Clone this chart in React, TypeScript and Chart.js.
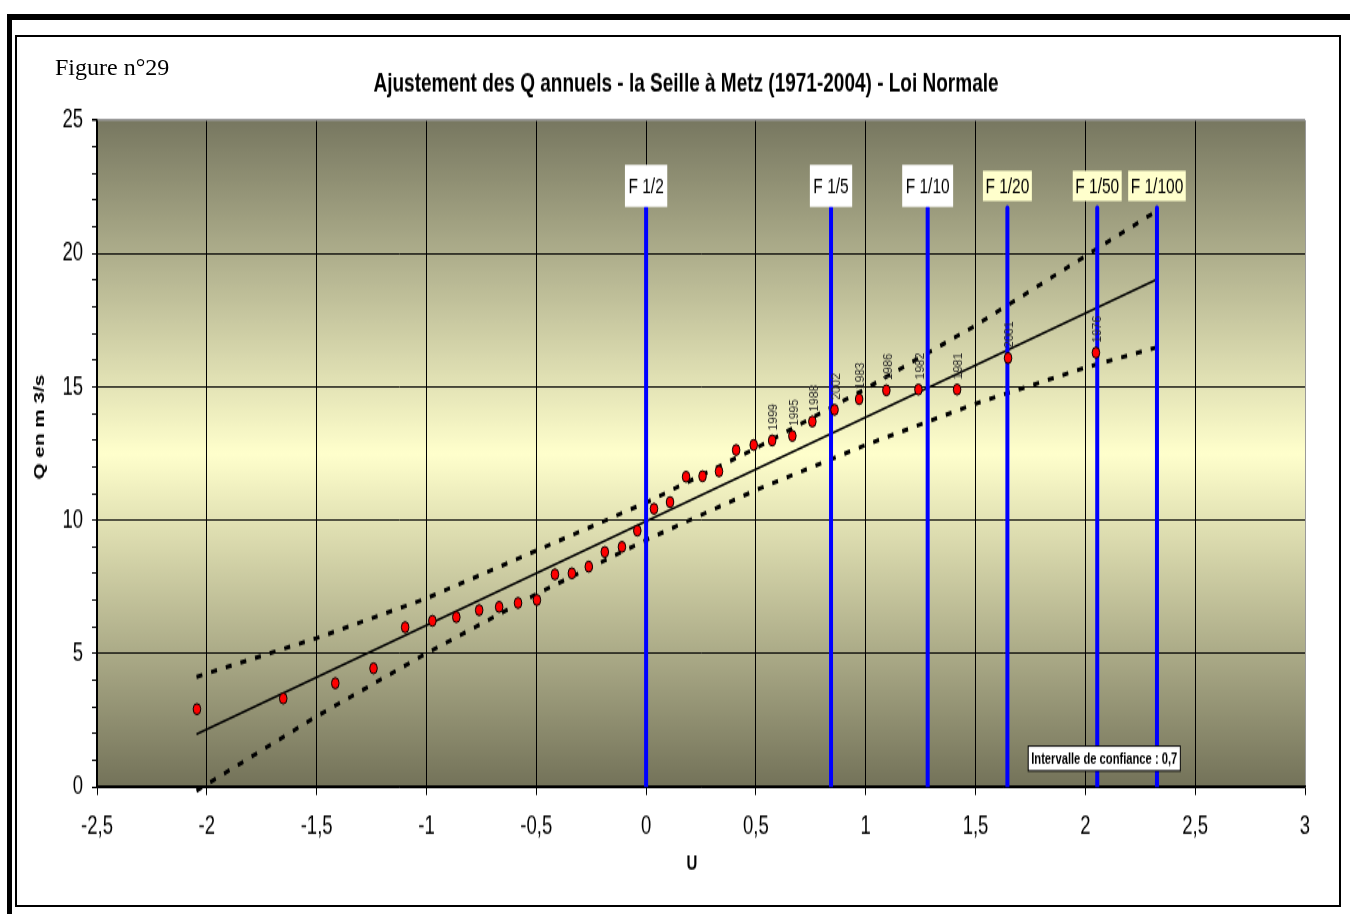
import React, { useEffect, useRef } from 'react';
import { Chart, registerables } from 'chart.js';

Chart.register(...registerables);

// ---- data ----
const U_VALUES = [
  -2.045, -1.652, -1.415, -1.241, -1.097, -0.973, -0.864, -0.760, -0.669, -0.583,
  -0.497, -0.415, -0.338, -0.261, -0.188, -0.110, -0.040, 0.036, 0.109, 0.182,
  0.257, 0.332, 0.410, 0.490, 0.574, 0.666, 0.757, 0.858, 0.970, 1.094,
  1.240, 1.416, 1.648, 2.048,
];
const Q_VALUES = [
  2.92, 3.32, 3.89, 4.45, 5.99, 6.23, 6.37, 6.63, 6.75, 6.90,
  7.01, 7.97, 8.01, 8.26, 8.81, 9.00, 9.61, 10.43, 10.68, 11.63,
  11.65, 11.83, 12.63, 12.82, 12.99, 13.16, 13.70, 14.14, 14.54, 14.87,
  14.90, 14.90, 16.08, 16.28,
];
const YEAR_LABELS = [
  '', '', '', '', '', '', '', '', '', '',
  '', '', '', '', '', '', '', '', '', '',
  '', '', '', '', '1999', '1995', '1988', '2002', '1983', '1986',
  '1982', '1981', '2001', '1976',
];
const FIT_U = [-2.047, 2.326];
const FIT_Q = [1.98, 19.03];
const BAND_U = [-2.047, -1.5, -1.0, -0.5, 0, 0.5, 1.0, 1.5, 2.0, 2.326];
const BAND_UPPER = [4.13, 5.58, 7.07, 8.86, 10.66, 12.70, 14.93, 17.30, 19.90, 21.60];
const BAND_LOWER = [-0.14, 2.65, 5.01, 7.23, 9.26, 11.13, 12.82, 14.37, 15.72, 16.48];
const F_U = [0, 0.842, 1.282, 1.645, 2.054, 2.326];
const F_LABELS = ['F 1/2', 'F 1/5', 'F 1/10', 'F 1/20', 'F 1/50', 'F 1/100'];
const F_BOX = ['#FFFFFF', '#FFFFFF', '#FFFFFF', '#FFFFCC', '#FFFFCC', '#FFFFCC'];
const F_TOP = 21.7;
const X_MIN = -2.5, X_MAX = 3, X_STEP = 0.5;
const Y_MIN = 0, Y_MAX = 25, Y_STEP = 1, Y_LABEL_STEP = 5;

const TITLE = 'Ajustement des Q annuels - la Seille à Metz (1971-2004) - Loi Normale';
const Y_TITLE = 'Q en m 3/s';
const X_TITLE = 'U';
const CI_TEXT = 'Intervalle de confiance : 0,7';

// ---- layout ----
const W = 1350;
const H = 914;
const S = 1.4304; // vertical stretch of the original picture
const CH = Math.round(H / S);
const FONT = '"Liberation Sans", Arial, sans-serif';

const bgPlugin = {
  id: 'bgGrad',
  beforeDraw(chart: any) {
    const { ctx, chartArea } = chart;
    const { left, top, right, bottom } = chartArea;
    const g = ctx.createLinearGradient(0, top, 0, bottom);
    g.addColorStop(0, '#777760');
    g.addColorStop(0.5, '#FFFFCC');
    g.addColorStop(1, '#737259');
    ctx.save();
    ctx.fillStyle = g;
    ctx.fillRect(left, top, right - left, bottom - top);
    ctx.restore();
  },
};

const annotPlugin = {
  id: 'annot',
  afterDatasetsDraw(chart: any) {
    const { ctx } = chart;
    ctx.save();
    // frequency labels on the blue lines
    F_U.forEach((_, i) => {
      const meta = chart.getDatasetMeta(1 + i);
      const el = meta.data[1];
      if (!el) return;
      ctx.font = `15.5px ${FONT}`;
      const tw = ctx.measureText(F_LABELS[i]).width;
      const white = F_BOX[i] === '#FFFFFF';
      const bh = white ? 29.4 : 21.2;
      const bw = tw + (white ? 7 : 5);
      const cy = el.y - 15.5;
      ctx.fillStyle = F_BOX[i];
      ctx.fillRect(el.x - bw / 2, cy - bh / 2, bw, bh);
      ctx.fillStyle = '#000';
      ctx.textAlign = 'center';
      ctx.textBaseline = 'middle';
      ctx.fillText(F_LABELS[i], el.x, cy + 0.5);
    });
    // year labels
    const pm = chart.getDatasetMeta(0);
    ctx.fillStyle = '#2a2a2a';
    ctx.font = `12px ${FONT}`;
    YEAR_LABELS.forEach((lab, i) => {
      if (!lab) return;
      const el = pm.data[i];
      ctx.save();
      ctx.translate(el.x + 2, el.y - 7);
      ctx.scale(1, 1 / S);
      ctx.rotate(-Math.PI / 2);
      ctx.textAlign = 'left';
      ctx.textBaseline = 'middle';
      ctx.fillText(lab, 0, 0);
      ctx.restore();
    });
    // confidence box
    const xs = chart.scales.x;
    const ys = chart.scales.y;
    const cx = xs.getPixelForValue(2.086);
    const cyy = ys.getPixelForValue(1.07);
    ctx.font = `bold 11.2px ${FONT}`;
    const cw = ctx.measureText(CI_TEXT).width + 6;
    const chh = 17.3;
    ctx.fillStyle = '#fff';
    ctx.fillRect(cx - cw / 2, cyy - chh / 2, cw, chh);
    ctx.strokeStyle = '#000';
    ctx.lineWidth = 1;
    ctx.strokeRect(cx - cw / 2, cyy - chh / 2, cw, chh);
    ctx.fillStyle = '#000';
    ctx.textAlign = 'center';
    ctx.textBaseline = 'middle';
    ctx.fillText(CI_TEXT, cx, cyy + 0.5);
    ctx.restore();
  },
  afterDraw(chart: any) {
    const { ctx } = chart;
    ctx.save();
    ctx.fillStyle = '#000';
    ctx.textAlign = 'center';
    ctx.textBaseline = 'middle';
    ctx.font = `bold 19px ${FONT}`;
    ctx.fillText(TITLE, 686, 84 / S);
    ctx.font = `bold 15px ${FONT}`;
    ctx.fillText(X_TITLE, 692, 864 / S);
    ctx.save();
    ctx.translate(40, 427 / S);
    ctx.rotate(-Math.PI / 2);
    ctx.font = `bold 14.5px ${FONT}`;
    ctx.fillText(Y_TITLE, 0, 0);
    ctx.restore();
    ctx.restore();
  },
};

export default function App() {
  const ref = useRef<HTMLCanvasElement | null>(null);

  useEffect(() => {
    if (!ref.current) return;
    const points = U_VALUES.map((u, i) => ({ x: u, y: Q_VALUES[i] }));
    const fLines = F_U.map((u, i) => ({
      label: F_LABELS[i],
      data: [{ x: u, y: 0 }, { x: u, y: F_TOP }],
      showLine: true,
      borderColor: '#0000FF',
      borderWidth: 4,
      borderCapStyle: 'round',
      pointRadius: 0,
    }));
    const chart = new Chart(ref.current, {
      type: 'scatter',
      data: {
        datasets: [
          {
            label: 'Q',
            data: points,
            pointRadius: 3.8,
            pointBackgroundColor: '#FF0000',
            pointBorderColor: '#000000',
            pointBorderWidth: 1,
          },
          ...fLines,
          {
            label: 'Ajustement',
            data: FIT_U.map((u, i) => ({ x: u, y: FIT_Q[i] })),
            showLine: true,
            borderColor: '#000',
            borderWidth: 1.5,
            pointRadius: 0,
          },
          {
            label: 'Borne sup',
            data: BAND_U.map((u, i) => ({ x: u, y: BAND_UPPER[i] })),
            showLine: true,
            borderColor: '#000',
            borderWidth: 3,
            borderDash: [6, 9],
            pointRadius: 0,
            clip: false,
          },
          {
            label: 'Borne inf',
            data: BAND_U.map((u, i) => ({ x: u, y: BAND_LOWER[i] })),
            showLine: true,
            borderColor: '#000',
            borderWidth: 3,
            borderDash: [6, 9],
            pointRadius: 0,
            clip: false,
          },
        ] as any,
      },
      options: {
        animation: false,
        responsive: false,
        devicePixelRatio: 1,
        events: [],
        layout: { padding: { top: 120 / S, left: 0, right: W - 1305, bottom: CH - 787 / S - 50 } },
        plugins: {
          legend: { display: false },
          tooltip: { enabled: false },
          title: { display: false },
        },
        scales: {
          x: {
            type: 'linear',
            min: X_MIN,
            max: X_MAX,
            afterFit: (s: any) => { s.height = 50; },
            ticks: {
              stepSize: X_STEP,
              autoSkip: false,
              maxRotation: 0,
              padding: 11,
              color: '#000',
              font: { family: FONT, size: 18.5 },
              callback: (v: any) => String(Math.round(Number(v) * 10) / 10).replace('.', ','),
            },
            grid: {
              color: (c: any) => (c.tick && c.tick.value === X_MAX ? '#9a9a9a' : '#000'),
              lineWidth: 1,
              tickLength: 5.6,
              tickColor: '#000',
            },
            border: { display: true, color: '#000', width: 1.5 },
          },
          y: {
            type: 'linear',
            min: Y_MIN,
            max: Y_MAX,
            afterFit: (s: any) => { s.width = 97; },
            ticks: {
              stepSize: Y_STEP,
              autoSkip: false,
              padding: 9,
              color: '#000',
              font: { family: FONT, size: 18.5 },
              callback: (v: any) => (Number(v) % Y_LABEL_STEP === 0 ? String(v) : ''),
            },
            grid: {
              color: (c: any) => {
                const v = c.tick ? c.tick.value : 0;
                if (v % Y_LABEL_STEP !== 0) return 'rgba(0,0,0,0)';
                return v === Y_MAX ? '#9a9a9a' : '#000';
              },
              lineWidth: (c: any) => (c.tick && c.tick.value === Y_MAX ? 1.5 : 1),
              tickLength: 5,
              tickColor: '#000',
            },
            border: { display: true, color: '#000', width: 1.5 },
          },
        },
      } as any,
      plugins: [bgPlugin, annotPlugin],
    });
    return () => chart.destroy();
  }, []);

  return (
    <div style={{ position: 'absolute', left: 0, top: 0, width: W, height: H, background: '#fff', overflow: 'hidden' }}>
      <div style={{ position: 'absolute', left: 7, top: 14, width: W - 7, height: 6, background: '#000' }} />
      <div style={{ position: 'absolute', left: 7, top: 14, width: 5, height: H - 14, background: '#000' }} />
      <div style={{ position: 'absolute', left: 15, top: 35, width: 1326, height: 872, border: '2px solid #000', boxSizing: 'border-box' }} />
      <div style={{ position: 'absolute', left: 0, top: 0, width: W, height: CH, transform: `scaleY(${S})`, transformOrigin: '0 0' }}>
        <canvas ref={ref} width={W} height={CH} />
      </div>
      <div style={{ position: 'absolute', left: 55, top: 55, fontFamily: '"Liberation Serif", "Times New Roman", serif', fontSize: 24, lineHeight: '24px', color: '#000', whiteSpace: 'nowrap' }}>
        Figure n°29
      </div>
    </div>
  );
}
